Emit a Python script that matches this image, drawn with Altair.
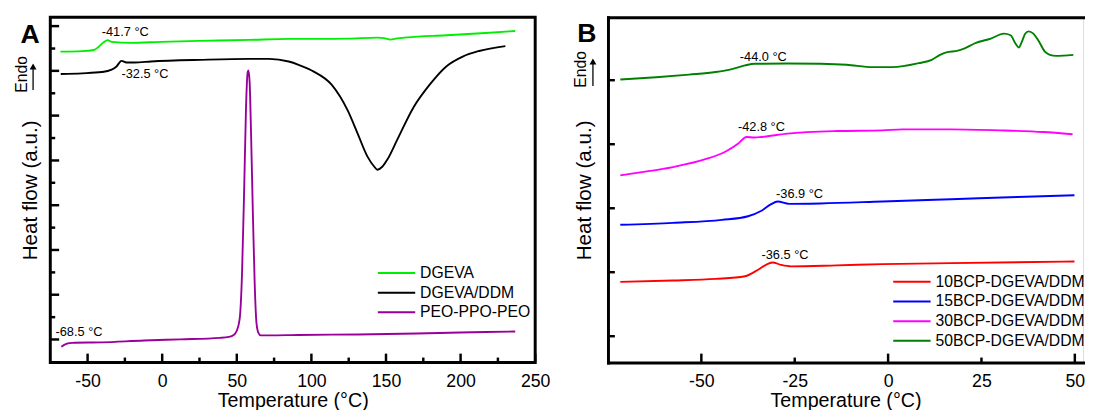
import altair as alt
import pandas as pd

FONT = "Liberation Sans"

# ---------------- Panel A data ----------------
a_series = ["DGEVA", "DGEVA/DDM", "PEO-PPO-PEO"]
a_colors = ["#00ee00", "#000000", "#990099"]

dgeva_T = [-68.2, -53.7, -45.8, -42.5, -39.2, -36.6, -33.9, -20.7, -0.9, 25.5, 58.4, 84.8,
           104.6, 124.4, 144.2, 149.5, 152.8, 157.4, 164.0, 190.4, 216.8, 236.6]
dgeva_v = [316, 316.5, 317.7, 321, 325.5, 327.7, 326, 325, 326, 327, 328, 329,
           329, 329.3, 330.3, 329.5, 328.3, 329.5, 330.5, 332.7, 335, 337]

ddm_T = [-68.0, -53.7, -40.5, -33.9, -30.6, -27.3, -24.0, -18.5, -7.5, 25.5, 58.4, 71.6, 84.8,
         91.4, 98.0, 101.3, 113.4, 124.4, 131.0, 137.6, 142.2, 144.2, 147.5, 150.8, 157.4,
         168.4, 179.4, 190.4, 201.4, 212.4, 230.0]
ddm_v = [293.3, 294, 295.3, 297.7, 301, 306.7, 305, 305, 306, 307.7, 308.7, 308.7, 306,
         302.7, 298.5, 296, 282.7, 256, 232.7, 209.3, 199, 196, 199, 206, 226,
         259.3, 282.7, 301, 311, 316.7, 321.7]

peo_T = [-67.6, -64.3, -60.3, -40.5, -12.1, 12.3, 38.7, 44.6, 47.9, 49.9, 51.9, 53.5, 55.0,
         56.2, 57.2, 57.8, 58.6, 59.6, 60.8, 62.0, 63.2, 64.5, 66.0, 71.6, 91.4, 131.0,
         170.6, 199.6, 216.8, 236.6]
peo_v = [16, 19, 20, 20.5, 22.4, 23.5, 25, 26, 28, 32, 44, 90, 180,
         260, 294, 297, 285, 230, 150, 80, 40, 30, 27.5, 27.5, 28, 28.5,
         29.5, 30.5, 31, 31.5]

annA_T = [-40.5, -27.3, -71.5]
annA_v = [336, 293, 31]
annA_text = ["-41.7 °C", "-32.5 °C", "-68.5 °C"]

xA_major = [-50, 0, 50, 100, 150, 200, 250]
xA_minor = [-25, 25, 75, 125, 175, 225]
yA_major = [23.4, 68.9, 114.4, 159.9, 205.4, 251, 296.5, 342]
yA_minor = [46.1, 91.6, 137.1, 182.7, 228.2, 273.7, 319.2]

# ---------------- Panel B data ----------------
b_series = ["10BCP-DGEVA/DDM", "15BCP-DGEVA/DDM", "30BCP-DGEVA/DDM", "50BCP-DGEVA/DDM"]
b_colors = ["#ff0000", "#0000ff", "#ff00ff", "#008000"]

b10_T = [-71.7, -57.6, -46.2, -38.3, -34.8, -32.2, -30.9, -28.7, -26.0, -13.8, -1.5, 16.9, 49.9]
b10_v = [82, 83.3, 85, 87.7, 94.3, 100.3, 101.7, 99.3, 97.7, 98.7, 100, 101, 102.7]

b15_T = [-71.7, -57.6, -44.5, -37.5, -33.9, -31.3, -29.6, -26.5, -18.1, -1.5, 16.9, 34.6, 49.9]
b15_v = [140, 142, 145, 148.7, 154.3, 161, 163.7, 161.3, 161.7, 163.7, 166, 168.3, 170]

b30_T = [-71.7, -66.4, -57.6, -48.9, -43.6, -40.1, -37.9, -35.7, -33.9, -26.9, -13.8, -1.5,
         3.8, 16.9, 30.1, 41.5, 49.4]
b30_v = [190.3, 193.3, 198.7, 206.7, 214.3, 222.7, 229.3, 228.7, 229.3, 232.7, 235.3, 236,
         237, 237, 236, 234.3, 232]

b50_T = [-71.7, -62.1, -53.3, -46.2, -41.8, -38.3, -35.7, -26.9, -18.1, -11.1, -4.1, 1.2, 8.2,
         11.7, 13.9, 15.6, 18.7, 20.5, 23.1, 27.5, 31.0, 32.8, 34.1, 35.0, 35.8, 36.7, 37.6,
         38.9, 40.2, 42.0, 43.3, 45.0, 49.6]
b50_v = [287.7, 290, 292.7, 295.3, 298.3, 302, 303.7, 304, 303.7, 302.7, 300.3, 300.3, 304.3,
         307.7, 312.7, 315.3, 317, 319.3, 324.3, 329.3, 334.3, 332.7, 324.3, 320.3, 326, 334.3, 336.7,
         334.3, 327.7, 316, 312.7, 311.7, 312.7]

annB_T = [-39.7, -40.2, -30.0, -33.9]
annB_v = [311, 239, 171, 109.3]
annB_text = ["-44.0 °C", "-42.8 °C", "-36.9 °C", "-36.5 °C"]

xB_major = [-50, 0, 50]
xB_minor = [-25, 25]
xB_labels = [-50, -25, 0, 25, 50]
yB_major = [26.7, 91.8, 156.8, 221.9, 287]


def long_df(names, Ts, Vs):
    rows = []
    for name, ts, vs in zip(names, Ts, Vs):
        for i, (t, v) in enumerate(zip(ts, vs)):
            rows.append({"series": name, "T": t, "v": v, "idx": i})
    return pd.DataFrame(rows)


dfA = long_df(a_series, [dgeva_T, ddm_T, peo_T], [dgeva_v, ddm_v, peo_v])
dfB = long_df(b_series, [b10_T, b15_T, b30_T, b50_T], [b10_v, b15_v, b30_v, b50_v])

H = 351
WA = 493
WB = 483


def x_enc(domain, values, domain_line):
    return alt.X("T:Q", scale=alt.Scale(domain=domain, nice=False, zero=False),
                 axis=alt.Axis(values=values, ticks=False, tickSize=0, domain=domain_line,
                               domainWidth=3, domainColor="black", domainCap="square",
                               grid=False, labelFontSize=18, labelPadding=10, labelFlush=False,
                               labelColor="black", labelFont=FONT, labelExpr="'' + datum.value",
                               title="Temperature (°C)", titleFontSize=20,
                               titleFontWeight="normal", titlePadding=1, titleColor="black",
                               titleFont=FONT))


def y_enc(domain_line, pad):
    return alt.Y("v:Q", scale=alt.Scale(domain=[0, H], nice=False, zero=False),
                 axis=alt.Axis(labels=False, ticks=False, tickSize=0, domain=domain_line,
                               domainWidth=3, domainColor="black", domainCap="square",
                               grid=False, title="Heat flow (a.u.)", titleFontSize=21,
                               titleFontWeight="normal", titlePadding=pad, titleColor="black",
                               titleFont=FONT))


def legend(lx, ly):
    return alt.Legend(orient="none", legendX=lx, legendY=ly, title=None, symbolType="stroke",
                      symbolSize=1444, symbolStrokeWidth=2, clipHeight=16, rowPadding=4,
                      labelFontSize=16, labelOffset=4, labelColor="black", labelFont=FONT,
                      padding=0)


def panel_layers(df, names, colors, X, Y, ann_T, ann_v, ann_text, xmaj, xmin, ymaj, ymin,
                 leg, endo_xy, arrow_x, arrow_y, letter, letter_xy, ylen):
    lines = alt.Chart(df).mark_line(strokeWidth=1.9, interpolate="monotone").encode(
        x=X, y=Y,
        color=alt.Color("series:N", scale=alt.Scale(domain=names, range=colors), legend=leg),
        order=alt.Order("idx:Q"))
    ann = alt.Chart(pd.DataFrame({"T": ann_T, "v": ann_v, "label": ann_text})).mark_text(
        align="left", baseline="middle", fontSize=13, font=FONT, color="black").encode(
        x=X, y=Y, text="label:N")
    layers = [lines, ann]
    for vals, ln in ((xmaj, 9), (xmin, 5)):
        if vals:
            layers.append(alt.Chart(pd.DataFrame({"T": vals})).mark_rule(
                color="black", strokeWidth=2.5).encode(
                x=X, y=alt.value(H), y2=alt.value(H - ln)))
    for vals, ln in ((ymaj, ylen), (ymin, 5)):
        if vals:
            layers.append(alt.Chart(pd.DataFrame({"v": vals})).mark_rule(
                color="black", strokeWidth=2.5).encode(
                y=Y, x=alt.value(0), x2=alt.value(ln)))
    endo = alt.Chart(pd.DataFrame({"label": ["Endo"]})).mark_text(
        angle=270, fontSize=16, font=FONT, color="black", align="center",
        baseline="middle").encode(x=alt.value(endo_xy[0]), y=alt.value(endo_xy[1]),
                                  text="label:N")
    shaft = alt.Chart(pd.DataFrame({"label": ["arrow"]})).mark_rule(
        color="black", strokeWidth=1.3).encode(
        x=alt.value(arrow_x), y=alt.value(arrow_y[0] + 4), y2=alt.value(arrow_y[1]))
    head = alt.Chart(pd.DataFrame({"label": ["arrow"]})).mark_point(
        shape="triangle-up", filled=True, size=48, color="black", opacity=1).encode(
        x=alt.value(arrow_x), y=alt.value(arrow_y[0] + 3))
    let = alt.Chart(pd.DataFrame({"label": [letter]})).mark_text(
        fontSize=27, fontWeight="bold", font=FONT, color="black", align="center",
        baseline="alphabetic").encode(x=alt.value(letter_xy[0]), y=alt.value(letter_xy[1]),
                                      text="label:N")
    layers += [endo, shaft, head, let]
    return layers


XA = x_enc([-75, 250], xA_major, False)
YA = y_enc(False, 10)
panelA = alt.layer(*panel_layers(
    dfA, a_series, a_colors, XA, YA, annA_T, annA_v, annA_text,
    xA_major, xA_minor, yA_major, yA_minor, legend(332, 252),
    (-29, 58), -17.5, (47, 74), "A", (-20.5, 26.5), 9)).properties(
    width=WA, height=H, view=alt.ViewBackground(stroke="black", strokeWidth=3))

XB = x_enc([-75, 52.2], xB_labels, True)
YB = y_enc(True, 14)
innerB = alt.layer(*panel_layers(
    dfB, b_series, b_colors, XB, YB, annB_T, annB_v, annB_text,
    xB_major, xB_minor, yB_major, [], legend(289, 261),
    (-27.7, 53), -15.3, (42, 70), "B", (-21.5, 25.5), 7))
topB = alt.Chart(pd.DataFrame({"T": xB_major})).mark_rule(opacity=0).encode(
    x=alt.X("T:Q", scale=alt.Scale(domain=[-75, 52.2], nice=False, zero=False),
            axis=alt.Axis(orient="top", labels=False, ticks=False, tickSize=0, domain=True,
                          domainWidth=3, domainColor="black", domainCap="square",
                          grid=False, title=None)))
panelB = alt.layer(innerB, topB).resolve_axis(x="independent").properties(width=WB, height=H)

chart = alt.hconcat(panelA, panelB, spacing=20).resolve_scale(color="independent").properties(
    padding={"left": 4, "top": 4, "right": 0, "bottom": 0}
).configure_view(stroke="transparent").configure(font=FONT)

chart.save("out.html", embed_options={"renderer": "svg", "actions": False})
